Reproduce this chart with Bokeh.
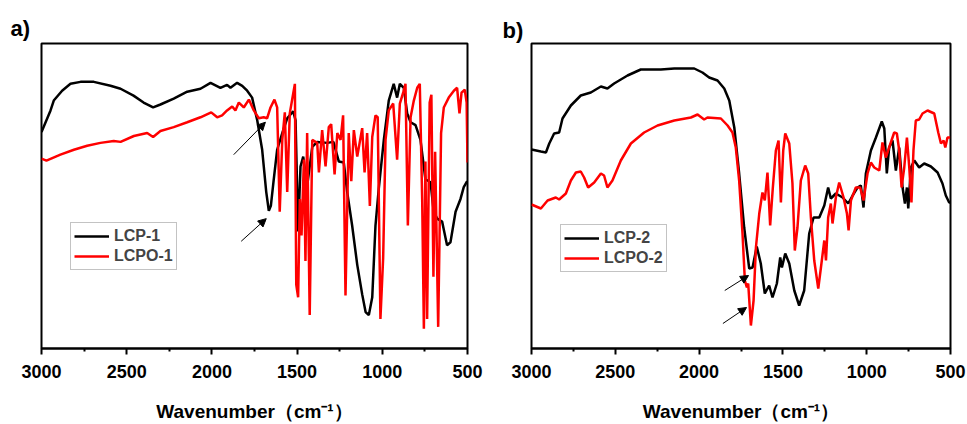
from bokeh.plotting import figure
from bokeh.layouts import row
from bokeh.models import Range1d, FixedTicker, Arrow, NormalHead
from bokeh.embed import file_html
from bokeh.resources import INLINE

# ---------------- data (wavenumber, relative transmittance a.u.) ----------------
lcp1_wn = [3000, 2947, 2928, 2879, 2830, 2771, 2693, 2595, 2536, 2460, 2401, 2345, 2302, 2224, 2145,
           2067, 2008, 1950, 1911, 1891, 1852, 1822, 1793, 1764, 1734, 1705, 1681, 1666, 1654, 1637,
           1617, 1587, 1558, 1523, 1509, 1494, 1480, 1464, 1441, 1411, 1382, 1323, 1287, 1255, 1226,
           1206, 1177, 1147, 1118, 1098, 1079, 1059, 1040, 1021, 991, 962, 933, 913, 897, 874, 854,
           834, 805, 776, 747, 717, 698, 678, 649, 620, 600, 570, 541, 522, 502]
lcp1_t = [220, 242, 252, 262, 269, 271, 271, 267, 264, 257, 250, 245, 248, 254, 261,
          264, 270, 265, 268, 265, 270, 267, 262, 255, 232, 202, 159, 140, 145, 172,
          202, 219, 234, 241, 232, 119, 185, 195, 165, 205, 210, 209, 210, 190, 189,
          159, 125, 85, 55, 37, 34, 52, 125, 162, 212, 252, 269, 255, 269, 265, 239,
          230, 227, 212, 172, 169, 139, 132, 129, 105, 108, 139, 152, 164, 170]

lcpo1_wn = [3000, 2971, 2889, 2810, 2732, 2654, 2576, 2536, 2458, 2380, 2345, 2302, 2224, 2145, 2067,
            2004, 1969, 1940, 1911, 1881, 1862, 1842, 1813, 1783, 1754, 1725, 1696, 1676, 1656, 1633,
            1617, 1602, 1587, 1572, 1558, 1543, 1523, 1513, 1505, 1494, 1484, 1474, 1460, 1451, 1441,
            1426, 1411, 1382, 1372, 1353, 1333, 1314, 1300, 1280, 1264, 1245, 1230, 1216, 1197, 1182,
            1167, 1147, 1118, 1104, 1089, 1073, 1059, 1040, 1027, 1011, 995, 981, 962, 936, 913,
            897, 874, 864, 850, 834, 815, 795, 780, 766, 756, 747, 737, 722, 712, 700,
            690, 672, 655, 639, 610, 580, 561, 547, 535, 516, 505, 500]
lcpo1_t = [193, 191, 197, 202, 206, 209, 211, 210, 216, 219, 215, 221, 225, 230, 235,
           240, 235, 237, 242, 246, 242, 250, 245, 253, 242, 234, 235, 234, 245, 253,
           245, 139, 212, 240, 159, 239, 259, 269, 65, 52, 152, 115, 192, 89, 219,
           34, 212, 209, 179, 222, 185, 225, 228, 177, 219, 212, 237, 54, 219, 170,
           222, 195, 224, 179, 219, 145, 215, 237, 235, 30, 92, 212, 242, 249, 192,
           249, 262, 269, 125, 235, 252, 265, 269, 152, 20, 190, 30, 250, 258, 73,
           200, 22, 219, 245, 255, 262, 265, 239, 260, 263, 250, 189]

lcp2_wn = [3000, 2944, 2914, 2894, 2865, 2835, 2815, 2765, 2706, 2646, 2586, 2547, 2507, 2427, 2348,
           2228, 2148, 2029, 1980, 1940, 1890, 1850, 1820, 1790, 1761, 1731, 1701, 1681, 1656, 1632,
           1608, 1582, 1562, 1536, 1516, 1506, 1486, 1462, 1432, 1403, 1373, 1343, 1317, 1283, 1253,
           1230, 1214, 1184, 1144, 1110, 1084, 1055, 1035, 1019, 1005, 975, 945, 910, 895, 880,
           866, 846, 826, 806, 786, 772, 760, 752, 736, 716, 687, 657, 617, 577, 548,
           528, 508, 500]
lcp2_t = [199, 197, 196, 205, 215, 216, 230, 243, 253, 256, 262, 260, 265, 273, 279,
          279, 280, 280, 276, 271, 268, 260, 248, 221, 175, 121, 80, 81, 102, 85,
          55, 63, 51, 65, 91, 81, 95, 85, 58, 43, 58, 115, 131, 131, 143,
          161, 150, 155, 151, 145, 153, 161, 163, 141, 175, 198, 211, 227, 220, 175,
          201, 208, 178, 201, 161, 145, 161, 140, 181, 188, 181, 185, 182, 176, 165,
          153, 146, 146]

lcpo2_wn = [3000, 2944, 2904, 2855, 2835, 2795, 2765, 2735, 2706, 2686, 2662, 2626, 2586, 2567, 2547,
            2517, 2467, 2407, 2328, 2248, 2148, 2049, 2009, 1970, 1950, 1870, 1830, 1801, 1781, 1761,
            1741, 1727, 1715, 1707, 1691, 1675, 1661, 1641, 1622, 1608, 1592, 1576, 1560, 1542, 1526,
            1512, 1498, 1486, 1462, 1443, 1429, 1413, 1393, 1367, 1349, 1333, 1313, 1289, 1273, 1253,
            1243, 1230, 1214, 1204, 1184, 1164, 1138, 1118, 1108, 1094, 1065, 1039, 1019, 995, 975,
            955, 925, 906, 886, 866, 836, 820, 806, 792, 776, 760, 746, 733, 721, 707,
            687, 667, 637, 597, 573, 557, 541, 531, 518, 502]
lcpo2_t = [144, 140, 148, 151, 149, 155, 168, 176, 177, 171, 161, 166, 175, 173, 161,
           168, 188, 205, 216, 223, 228, 231, 234, 229, 231, 230, 223, 216, 201, 168,
           115, 68, 61, 65, 23, 48, 101, 135, 156, 148, 176, 123, 161, 198, 208,
           146, 198, 215, 205, 165, 98, 121, 168, 183, 175, 131, 88, 60, 81, 108,
           88, 131, 145, 125, 151, 166, 151, 135, 118, 148, 161, 161, 148, 175, 186,
           181, 178, 206, 191, 201, 216, 215, 198, 161, 181, 211, 181, 146, 198, 228,
           229, 235, 238, 235, 216, 205, 208, 201, 211, 211]

x_major = [3000, 2500, 2000, 1500, 1000, 500]
x_minor = [2750, 2250, 1750, 1250, 750]
x_title = "Wavenumber（cm⁻¹）"

# arrows: (x_start, y_start, x_end, y_end)
arrows_a = [(1872, 197, 1686, 230), (1828, 109, 1681, 132)]
arrows_b = [(1847, 58, 1705, 73), (1858, 25, 1717, 41)]

FONT = "Liberation Sans"


def make_panel(width, height, borders, ymax, black, red, names, arrows, tag, legend_loc):
    bl, br, bt, bb = borders
    p = figure(width=width, height=height, output_backend="svg", toolbar_location=None,
               x_range=Range1d(3000, 500), y_range=Range1d(0, ymax),
               min_border_left=bl, min_border_right=br, min_border_top=bt, min_border_bottom=bb)
    p.grid.visible = False
    p.yaxis.visible = False
    p.outline_line_color = "black"
    p.outline_line_width = 2
    p.background_fill_color = "white"
    p.border_fill_color = "white"

    # panel tag as title
    p.title.text = tag[0]
    p.title.align = "left"
    p.title.offset = tag[1]
    p.title.standoff = tag[2]
    p.title.text_font = FONT
    p.title.text_font_style = "bold"
    p.title.text_font_size = "22px"
    p.title.text_color = "black"

    ax = p.xaxis[0]
    ax.ticker = FixedTicker(ticks=x_major, minor_ticks=x_minor)
    ax.axis_line_width = 2
    ax.major_tick_line_width = 2
    ax.minor_tick_line_width = 2
    ax.major_tick_in = 0
    ax.major_tick_out = 6
    ax.minor_tick_in = 0
    ax.minor_tick_out = 3
    ax.major_label_text_font = FONT
    ax.major_label_text_font_style = "bold"
    ax.major_label_text_font_size = "18px"
    ax.major_label_text_color = "black"
    ax.major_label_standoff = 10
    ax.axis_label = x_title
    ax.axis_label_text_font = FONT
    ax.axis_label_text_font_style = "bold"
    ax.axis_label_text_font_size = "19px"
    ax.axis_label_text_color = "black"
    ax.axis_label_standoff = 20

    p.line(black[0], black[1], line_color="black", line_width=2.5, legend_label=names[0])
    p.line(red[0], red[1], line_color="#ff0000", line_width=2.5, legend_label=names[1])

    for (x0, y0, x1, y1) in arrows:
        p.add_layout(Arrow(x_start=x0, y_start=y0, x_end=x1, y_end=y1, line_width=1,
                           line_color="black",
                           end=NormalHead(size=8, fill_color="black", line_color="black")))

    lg = p.legend[0]
    lg.location = legend_loc
    lg.label_text_font = FONT
    lg.label_text_font_style = "bold"
    lg.label_text_font_size = "16px"
    lg.glyph_width = 35
    lg.glyph_height = 20
    lg.label_height = 20
    lg.label_standoff = 5
    lg.padding = 3
    lg.spacing = 0
    lg.margin = 0
    lg.border_line_color = "#888888"
    lg.border_line_width = 1.5
    lg.background_fill_alpha = 1
    return p


pa = make_panel(487, 424, (41, 20, 42, 72), 310, (lcp1_wn, lcp1_t), (lcpo1_wn, lcpo1_t),
                ["LCP-1", "LCPO-1"], arrows_a, ("a)", -31, 6), (29, 78))
pb = make_panel(480, 424, (44, 17, 43, 76), 305, (lcp2_wn, lcp2_t), (lcpo2_wn, lcpo2_t),
                ["LCP-2", "LCPO-2"], arrows_b, ("b)", -29, 1), (29, 76))

layout = row(pa, pb)
open("out.html", "w").write(file_html(layout, INLINE))
